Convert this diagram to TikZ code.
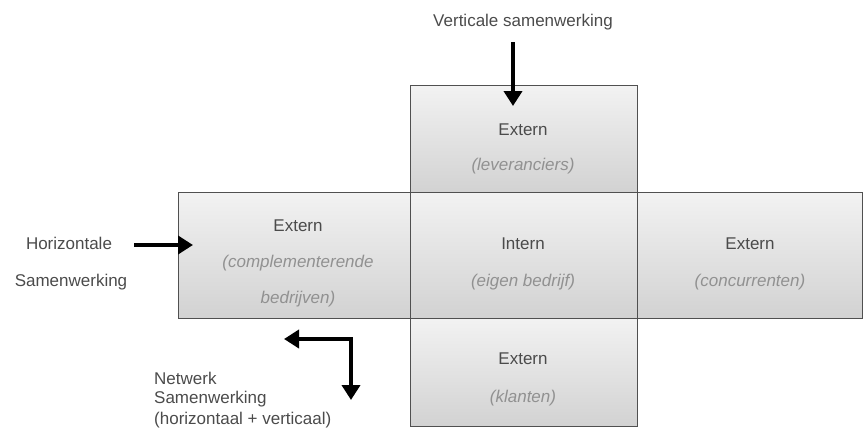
\documentclass[tikz,border=0pt]{standalone}
\usepackage{fontspec}
\setmainfont{Liberation Sans}
\usetikzlibrary{arrows.meta}
\definecolor{boxtop}{RGB}{242,242,242}
\definecolor{boxbot}{RGB}{210,210,210}
\definecolor{edgegray}{RGB}{80,80,80}
\definecolor{titlegray}{RGB}{75,75,75}
\definecolor{notegray}{RGB}{145,145,145}
\tikzset{
  panel/.style={draw=edgegray, line width=1.3pt, top color=boxtop, bottom color=boxbot,
    anchor=north west, inner sep=0pt},
  headtext/.style={font=\fontsize{17}{20}\selectfont, text=titlegray, inner sep=0pt},
  subtext/.style={font=\fontsize{17}{20}\selectfont\itshape, text=notegray, inner sep=0pt},
  sidetext/.style={font=\fontsize{17}{20}\selectfont, text=titlegray, inner sep=0pt},
  bigarrow/.style={line width=4pt, -{Triangle[length=15pt,width=18pt]}},
  dualarrow/.style={line width=4pt, {Triangle[length=15pt,width=18pt]}-{Triangle[length=15pt,width=18pt]}},
}
\begin{document}
\begin{tikzpicture}[x=1pt,y=-1pt]
  \useasboundingbox (0,0) rectangle (868,431);

  % the five panels of the cross
  \node[panel, minimum width=227pt, minimum height=107pt] (top) at (410,85) {};
  \node[panel, minimum width=232pt, minimum height=126pt] (left) at (178,192) {};
  \node[panel, minimum width=225pt, minimum height=126pt] (right) at (637,192) {};
  \node[panel, minimum width=227pt, minimum height=108pt] (bottom) at (410,318) {};
  \node[panel, minimum width=227pt, minimum height=126pt] (centre) at (410,192) {};

  % panel texts
  \node[headtext] (topA) at (523,130) {Extern};
  \node[subtext]  (topB) at (523,166) {(leveranciers)};

  \node[headtext] (leftA) at (298,226) {Extern};
  \node[subtext]  (leftB) at (298,263) {(complementerende};
  \node[subtext]  (leftC) at (298,299) {bedrijven)};

  \node[headtext] (centreA) at (523,244) {Intern};
  \node[subtext]  (centreB) at (523,282) {(eigen bedrijf)};

  \node[headtext] (rightA) at (750,244) {Extern};
  \node[subtext]  (rightB) at (750,282) {(concurrenten)};

  \node[headtext] (bottomA) at (523,359) {Extern};
  \node[subtext]  (bottomB) at (523,398) {(klanten)};

  % outside labels
  \node[sidetext] (vert) at (523,22) {Verticale samenwerking};
  \node[sidetext] (horA) at (69,243) {Horizontale};
  \node[sidetext] (horB) at (71,282) {Samenwerking};
  \node[sidetext, anchor=west] (netA) at (154,378) {Netwerk};
  \node[sidetext, anchor=west] (netB) at (154,399) {Samenwerking};
  \node[sidetext, anchor=west] (netC) at (154,420) {(horizontaal + verticaal)};

  % arrows
  \coordinate (vstart) at (513,42);
  \coordinate (vtip) at (513,106);
  \draw[bigarrow] (vstart) -- (vtip);

  \coordinate (hstart) at (134,245);
  \coordinate (htip) at (193,245);
  \draw[bigarrow] (hstart) -- (htip);

  \coordinate (nleft) at (284,339);
  \coordinate (ndown) at (351,400);
  \draw[dualarrow] (nleft) -| (ndown);
\end{tikzpicture}
\end{document}
